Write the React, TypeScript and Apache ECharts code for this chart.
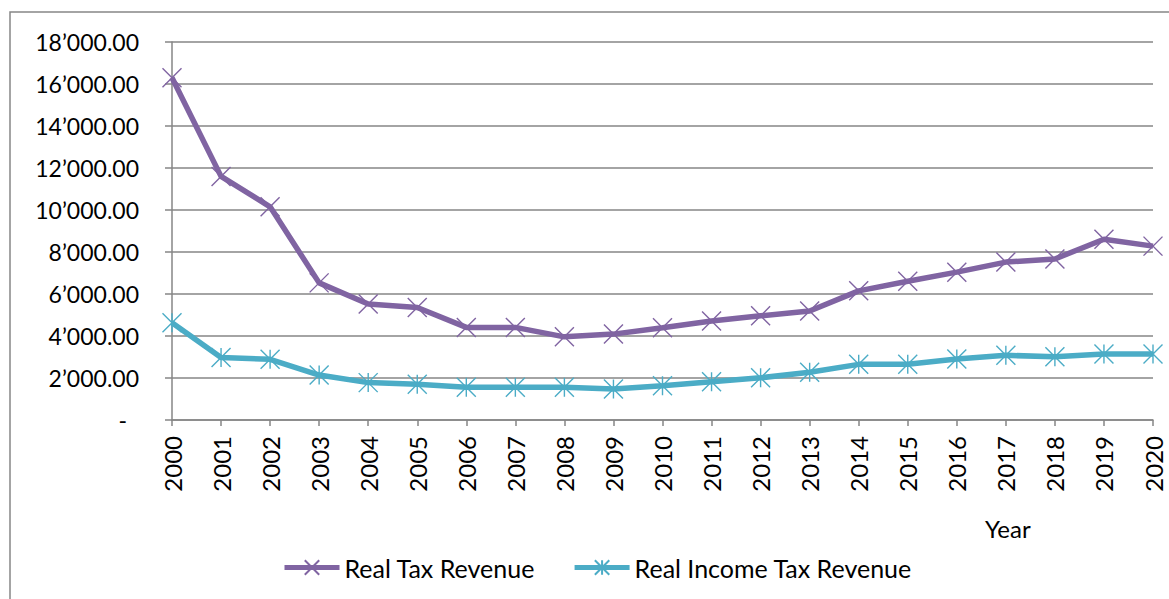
import React, { useEffect, useRef } from "react";
import * as echarts from "echarts";

const years = ["2000","2001","2002","2003","2004","2005","2006","2007","2008","2009","2010","2011","2012","2013","2014","2015","2016","2017","2018","2019","2020"];
const realTaxRevenue = [16300,11600,10150,6530,5520,5360,4410,4410,3960,4090,4390,4710,4960,5190,6150,6610,7040,7520,7670,8610,8280];
const realIncomeTaxRevenue = [4630,2980,2890,2140,1780,1700,1560,1560,1560,1480,1630,1820,2010,2270,2650,2650,2900,3080,3010,3140,3140];
const seriesNames = ["Real Tax Revenue", "Real Income Tax Revenue"];
const xAxisTitle = "Year";

const FONT = "Lato, 'Liberation Sans', sans-serif";
const GRID = "#868686";

function fmt(v: number): string {
  if (v === 0) return "{dash|-}";
  const s = v.toFixed(2);
  const [i, d] = s.split(".");
  const withSep = i.replace(/\B(?=(\d{3})+(?!\d))/g, "\u2019");
  return withSep + "." + d;
}

export default function App() {
  const ref = useRef<HTMLDivElement>(null);
  useEffect(() => {
    if (!ref.current) return;
    const chart = echarts.init(ref.current, undefined, { renderer: "svg" });
    chart.setOption({
      animation: false,
      backgroundColor: "#ffffff",
      textStyle: { fontFamily: FONT },
      grid: { left: 172, right: 16, top: 42, bottom: 179, containLabel: false },
      graphic: [
        {
          type: "rect",
          shape: { x: 10, y: 12, width: 1300, height: 800 },
          style: { fill: "none", stroke: GRID, lineWidth: 1.5 },
          silent: true,
        },
        {
          type: "text",
          x: 985,
          y: 516,
          style: { text: xAxisTitle, fontSize: 24, fontFamily: FONT, fill: "#000" },
        },
      ],
      legend: {
        left: 277,
        top: 550,
        itemWidth: 55,
        itemHeight: 18,
        itemGap: 37,
        lineStyle: { width: 5 },
        textStyle: { fontSize: 25, color: "#000", fontFamily: FONT },
        data: seriesNames,
      },
      xAxis: {
        type: "category",
        data: years,
        boundaryGap: false,
        axisLine: { lineStyle: { color: GRID, width: 1.5 } },
        axisTick: { show: true, length: 6, lineStyle: { color: GRID, width: 1.5 }, interval: 0 },
        axisLabel: { rotate: 90, interval: 0, margin: 16, fontSize: 24, color: "#000", fontFamily: FONT },
        splitLine: { show: false },
      },
      yAxis: {
        type: "value",
        min: 0,
        max: 18000,
        interval: 2000,
        axisLine: { show: true, lineStyle: { color: GRID, width: 1.5 } },
        axisTick: { show: true, length: 7, lineStyle: { color: GRID, width: 1.5 } },
        splitLine: { show: true, lineStyle: { color: GRID, width: 1.5 } },
        axisLabel: {
          margin: 33,
          fontSize: 23,
          color: "#000",
          fontFamily: FONT,
          formatter: fmt,
          rich: { dash: { fontSize: 23, fontFamily: FONT, color: "#000", padding: [0, 12, 0, 0] } },
        },
      },
      series: [
        {
          name: seriesNames[0],
          type: "line",
          data: realTaxRevenue,
          symbol: "path://M0,0L10,10M10,0L0,10",
          symbolSize: 19,
          showAllSymbol: true,
          lineStyle: { color: "#8064A2", width: 5.5 },
          itemStyle: { color: "#8064A2", borderColor: "#8064A2", borderWidth: 1.4 },
        },
        {
          name: seriesNames[1],
          type: "line",
          data: realIncomeTaxRevenue,
          symbol: "path://M0,0L10,10M10,0L0,10M5,0L5,10",
          symbolSize: 19,
          showAllSymbol: true,
          lineStyle: { color: "#4BACC6", width: 5.5 },
          itemStyle: { color: "#4BACC6", borderColor: "#4BACC6", borderWidth: 1.4 },
        },
      ],
    });
    return () => chart.dispose();
  }, []);
  return (
    <div
      ref={ref}
      style={{ position: "fixed", left: 0, top: 0, width: 1169, height: 599 }}
    />
  );
}
